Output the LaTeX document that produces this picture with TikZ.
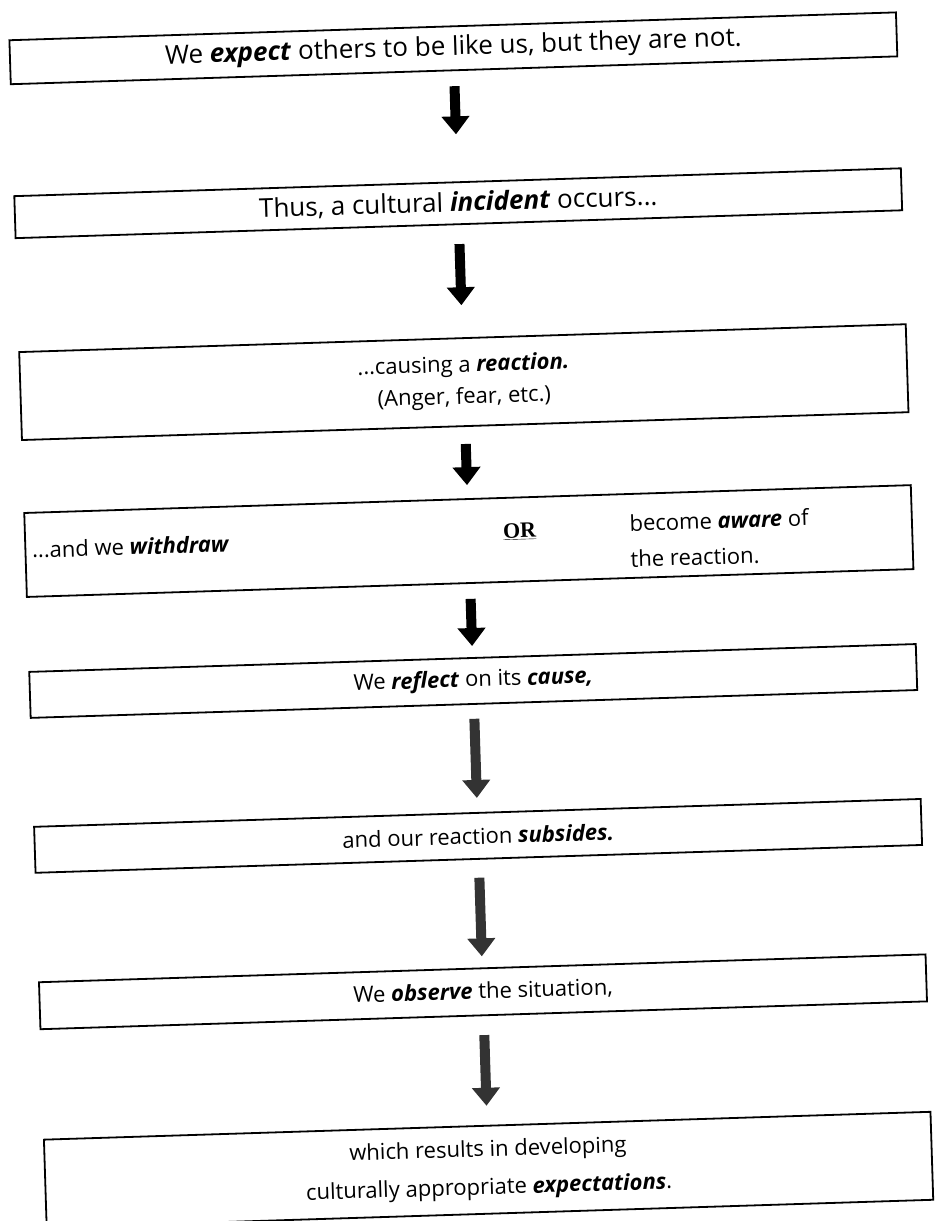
\documentclass[tikz,border=0pt]{standalone}
\usepackage{fontspec}
\setmainfont{Open Sans}
\newfontfamily\orfont{Liberation Serif}
\usetikzlibrary{arrows.meta}
\newcommand{\kw}[1]{\textbf{\textit{#1}}}
\tikzset{
  flowbox/.style={draw=black, line width=1.8pt, minimum width=887pt, inner sep=0pt,
    align=center, font=\fontsize{22}{32}\selectfont},
  bigfont/.style={font=\fontsize{26}{32}\selectfont},
  txt/.style={inner sep=0pt, font=\fontsize{22}{36}\selectfont, align=left},
  bigarrow/.style={line width=10pt, draw=black, -{Triangle[width=27pt,length=18pt]}},
  greyarrow/.style={bigarrow, draw=black!80}
}
\begin{document}
\begin{tikzpicture}[x=1pt,y=-1pt]
\useasboundingbox (0,0) rectangle (935,1221);
\begin{scope}[rotate around={1.8:(471,610)}, transform shape]
  \node[flowbox, bigfont, minimum height=44pt] (b1) at (471,48)
    {We \kw{expect} others to be like us, but they are not.};
  \node[flowbox, bigfont, minimum height=42pt] (b2) at (471,203)
    {Thus, a cultural \kw{incident} occurs...};
  \node[flowbox, minimum height=88pt] (b3) at (471,382)
    {...causing a \kw{reaction.}\\(Anger, fear, etc.)};
  \node[flowbox, minimum height=84pt] (b4) at (471,541) {};
  \node[txt, anchor=west] (t4a) at (34,536) {...and we \kw{withdraw}};
  \node[txt] (t4b) at (522,533) {\orfont\bfseries\underline{OR}};
  \node[txt, anchor=west] (t4c) at (632,546) {become \kw{aware} of\\the reaction.};
  \node[flowbox, minimum height=46pt] (b5) at (471,681)
    {We \kw{reflect} on its \kw{cause,}};
  \node[flowbox, minimum height=46pt] (b6) at (471,836)
    {and our reaction \kw{subsides.}};
  \node[flowbox, minimum height=47pt] (b7) at (471,992)
    {We \kw{observe} the situation,};
  \node[flowbox, minimum height=88pt, font=\fontsize{22}{38}\selectfont] (b8) at (471,1170)
    {which results in developing\\culturally appropriate \kw{expectations}.};

  \draw[bigarrow] ([yshift=-15pt]b1.south) -- ([yshift=47pt]b2.north);
  \draw[bigarrow] ([yshift=-19pt]b2.south) -- ([yshift=32pt]b3.north);
  \draw[bigarrow] ([yshift=-17pt]b3.south) -- ([yshift=13pt]b4.north);
  \draw[bigarrow] ([yshift=-15pt]b4.south) -- ([yshift=11pt]b5.north);
  \draw[greyarrow] ([yshift=-14pt]b5.south) -- ([yshift=14pt]b6.north);
  \draw[greyarrow] ([yshift=-18pt]b6.south) -- ([yshift=11pt]b7.north);
  \draw[greyarrow] ([yshift=-19pt]b7.south) -- ([yshift=19pt]b8.north);
\end{scope}
\end{tikzpicture}
\end{document}
